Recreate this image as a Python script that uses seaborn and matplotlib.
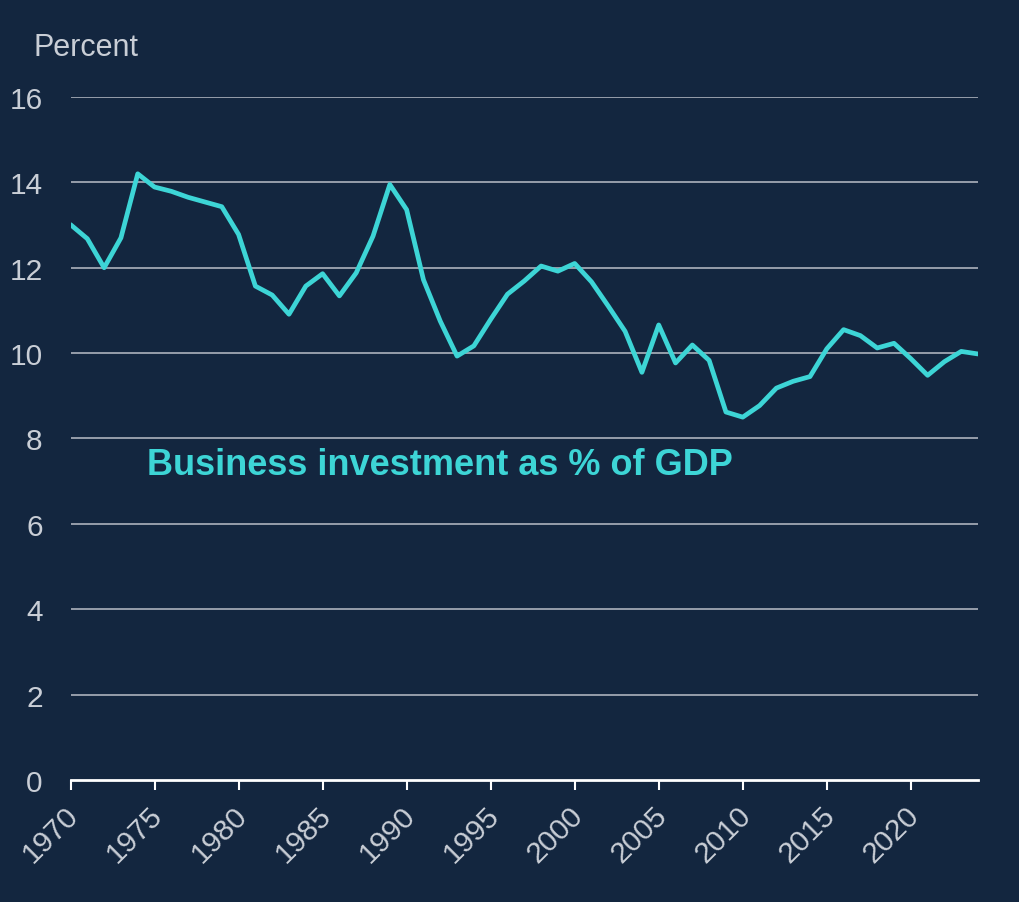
import matplotlib
matplotlib.use("Agg")
import matplotlib.pyplot as plt
import matplotlib.transforms as mtransforms
import seaborn as sns
import pandas as pd

# annual business investment, % of GDP
years = list(range(1970, 2025))
invest_pct = [13.01, 12.68, 12.00, 12.70, 14.20, 13.89, 13.79, 13.65, 13.54, 13.43,
              12.78, 11.57, 11.36, 10.91, 11.57, 11.86, 11.34, 11.88, 12.74, 13.95,
              13.36, 11.72, 10.75, 9.93, 10.17, 10.79, 11.38, 11.69, 12.04, 11.92,
              12.10, 11.67, 11.10, 10.51, 9.55, 10.66, 9.77, 10.19, 9.83, 8.62,
              8.50, 8.77, 9.18, 9.34, 9.45, 10.10, 10.55, 10.41, 10.12, 10.23,
              9.87, 9.48, 9.80, 10.04, 9.98]
y_ticks = [0, 2, 4, 6, 8, 10, 12, 14, 16]
x_ticks = list(range(1970, 2025, 5))

bg = "#13263f"
teal = "#3dd5d6"
txt = "#c9ced6"

df = pd.DataFrame({"year": years, "pct": invest_pct})

sns.set_style("white")
plt.rcParams["font.family"] = ["Liberation Sans", "DejaVu Sans"]

fig = plt.figure(figsize=(10.19, 9.03), dpi=100, facecolor=bg)
ax = fig.add_axes([0.0692, 0.1351, 0.8906, 0.7564])
ax.set_facecolor(bg)

for t in y_ticks[1:]:
    ax.axhline(t, color="#b9bec7", lw=1.1, zorder=1)

sns.lineplot(data=df, x="year", y="pct", color=teal, lw=3.4, ax=ax, zorder=3)

ax.set_xlim(1970, 2024)
ax.set_ylim(0, 16)
ax.set_xticks(x_ticks)
ax.set_yticks(y_ticks)
ax.set_xlabel("")
ax.set_ylabel("")

for s in ["top", "right", "left"]:
    ax.spines[s].set_visible(False)
ax.spines["bottom"].set_color("white")
ax.spines["bottom"].set_linewidth(2)
ax.spines["bottom"].set_zorder(4)

ax.tick_params(axis="x", colors="white", length=7, width=1.5, labelcolor=txt,
               labelsize=21.5, pad=8, bottom=True)
ax.tick_params(axis="y", length=0, labelcolor=txt, labelsize=21.5, pad=20)
shift = mtransforms.ScaledTranslation(-6 / 100, 0, fig.dpi_scale_trans)
for lab in ax.get_xticklabels():
    lab.set_rotation(45)
    lab.set_ha("right")
    lab.set_rotation_mode("anchor")
    lab.set_transform(lab.get_transform() + shift)

fig.text(0.033, 0.947, "Percent", color=txt, fontsize=22, ha="left", va="center")
ax.text(1974.55, 7.38, "Business investment as % of GDP", color=teal,
        fontsize=26, fontweight="bold", ha="left", va="center")

fig.savefig("out.png", dpi=100, facecolor=bg)
